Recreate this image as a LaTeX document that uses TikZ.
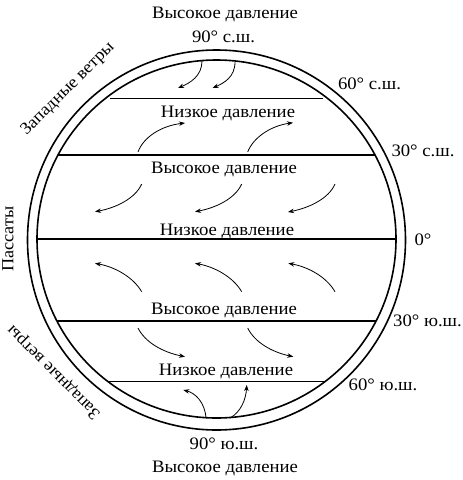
\documentclass[tikz,border=0pt]{standalone}
\usepackage{fontspec}
\setmainfont{Liberation Serif}[FakeStretch=1.07]
\usetikzlibrary{arrows.meta}
\begin{document}
\begin{tikzpicture}[x=1pt,y=-1pt,
  lbl/.style={font=\fontsize{17.5}{20}\selectfont, inner sep=0pt, anchor=base},
  rlbl/.style={font=\fontsize{17}{20}\selectfont, inner sep=0pt, anchor=center},
  wind/.style={-{Stealth[length=6pt,width=4.5pt]}, line width=0.8pt},
  ring/.style={line width=1.6pt},
  band/.style={line width=1.5pt}]
\useasboundingbox (0,0) rectangle (463,480);
% rings
\draw[ring] (216.5,240) ellipse [x radius=189, y radius=190];
\draw[ring] (216.5,239) ellipse [x radius=179.5, y radius=179];
% latitude lines
\draw[band] (110,98.3) -- (323,98.3);
\draw[band] (58,155) -- (375,155);
\draw[band] (37,239) -- (396,239);
\draw[band] (56.6,321) -- (376.4,321);
\draw[band] (107.3,381.5) -- (325.7,381.5);
% labels top/bottom
\node[lbl] (t1) at (225,18.5) {Высокое давление};
\node[lbl] (t2) at (223.5,42.3) {90° с.ш.};
\node[lbl] (b2) at (224,449.3) {90° ю.ш.};
\node[lbl] (b1) at (225,472.3) {Высокое давление};
% right labels
\node[lbl] (r60n) at (369.5,89.3) {60° с.ш.};
\node[lbl] (r30n) at (423,156.7) {30° с.ш.};
\node[lbl] (r0) at (423,245) {0°};
\node[lbl] (r30s) at (427.5,326) {30° ю.ш.};
\node[lbl] (r60s) at (383,390) {60° ю.ш.};
% inner labels
\node[lbl] (p1) at (228,117.3) {Низкое давление};
\node[lbl] (p2) at (224,173.3) {Высокое давление};
\node[lbl] (p3) at (227,235.5) {Низкое давление};
\node[lbl] (p4) at (224,314) {Высокое давление};
\node[lbl] (p5) at (226,375) {Низкое давление};
% side labels
\node[rlbl, rotate=45] (w1) at (68,89) {Западные ветры};
\node[rlbl, rotate=90] (ps) at (8,239) {Пассаты};
\node[rlbl, rotate=135] (w2) at (54,372) {Западные ветры};
% polar north
\draw[wind] (202,61) .. controls (202,76) and (190,83) .. (178,88);
\draw[wind] (235,62) .. controls (235,77) and (224,83) .. (212.7,88);
% 60N-30N
\draw[wind] (138,152) .. controls (143,138) and (160,126) .. (185,123);
\draw[wind] (247.7,152) .. controls (253,138) and (270,126) .. (293,122.7);
% 30N-0
\draw[wind] (141.7,184) .. controls (135,199) and (115,208) .. (95,211.7);
\draw[wind] (241.7,184) .. controls (235,199) and (215,208) .. (195,211.7);
\draw[wind] (335,184) .. controls (328.5,199) and (308.5,208) .. (288,212);
% 0-30S
\draw[wind] (141.7,291.7) .. controls (133,277) and (115,267) .. (95,263.3);
\draw[wind] (241.7,291.7) .. controls (233,277) and (215,267) .. (195,263.3);
\draw[wind] (335,291.7) .. controls (326.5,277) and (308.5,267) .. (288.3,263.3);
% 30S-60S
\draw[wind] (138,328) .. controls (145,342) and (162,352) .. (185,356.7);
\draw[wind] (247.7,328) .. controls (254.5,342) and (271.5,352) .. (293.3,356.7);
% polar south
\draw[wind] (206,418.3) .. controls (205,402) and (195,393) .. (183.3,390);
\draw[wind] (230,418) .. controls (241,412) and (246,399) .. (246.7,385);
\end{tikzpicture}
\end{document}
